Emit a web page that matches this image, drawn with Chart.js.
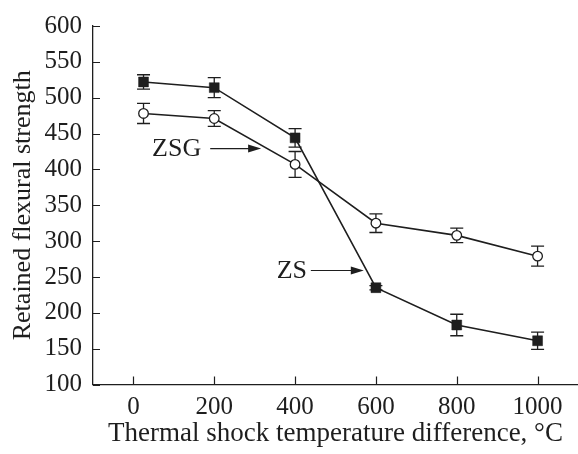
<!DOCTYPE html>
<html>
<head>
<meta charset="utf-8">
<script src="https://cdn.jsdelivr.net/npm/chart.js@4/dist/chart.umd.min.js"></script>
<style>
  body { margin: 0; background: #fff; }
  #wrap { width: 578px; height: 454px; position: relative; }
</style>
</head>
<body>
<div id="wrap"><canvas id="chart"></canvas></div>
<script>
// temperature difference, °C
temps = [25, 200, 400, 600, 800, 1000]
// retained flexural strength
zs = [522, 514, 444, 235, 183, 161]
zsErr = [10, 14, 13, 3, 15, 12]
zsg = [478, 471, 407, 325, 308, 279]
zsgErr = [14, 11, 18, 13, 10, 14]

xTicks = [0, 200, 400, 600, 800, 1000]

// label text, anchor in data units, arrow start/end x in data units
notes = [
    { text: 'ZSG', x: 107, y: 429, from: 190, to: 316 },
    { text: 'ZS', x: 392, y: 259, from: 439, to: 570 }
]

ink = '#1e1e1e'
serif = "'Liberation Serif', 'Times New Roman', serif"

function toPoints(ys) {
    return temps.map((t, i) => ({ x: t, y: ys[i] }))
}

// error bars, drawn under the markers
errorBars = {
    id: 'errorBars',
    beforeDatasetsDraw(chart) {
        const ctx = chart.ctx
        const xs = chart.scales.x, ys = chart.scales.y
        const sets = [[zs, zsErr], [zsg, zsgErr]]
        ctx.save()
        ctx.strokeStyle = ink
        ctx.lineWidth = 1.3
        sets.forEach(([vals, errs]) => {
            vals.forEach((v, i) => {
                const px = xs.getPixelForValue(temps[i])
                const top = ys.getPixelForValue(v + errs[i])
                const bot = ys.getPixelForValue(v - errs[i])
                ctx.beginPath()
                ctx.moveTo(px, top); ctx.lineTo(px, bot)
                ctx.moveTo(px - 6.5, top); ctx.lineTo(px + 6.5, top)
                ctx.moveTo(px - 6.5, bot); ctx.lineTo(px + 6.5, bot)
                ctx.stroke()
            })
        })
        ctx.restore()
    }
}

// inward tick marks + labels with arrows
extras = {
    id: 'extras',
    afterDraw(chart) {
        const ctx = chart.ctx
        const xs = chart.scales.x, ys = chart.scales.y
        const area = chart.chartArea
        ctx.save()
        ctx.strokeStyle = ink
        ctx.lineWidth = 1.2
        ctx.beginPath()
        xs.ticks.forEach(t => {
            const px = Math.round(xs.getPixelForValue(t.value)) + 0.5
            ctx.moveTo(px, area.bottom); ctx.lineTo(px, area.bottom - 8)
        })
        ys.ticks.forEach(t => {
            const py = Math.round(ys.getPixelForValue(t.value)) + 0.5
            ctx.moveTo(area.left, py); ctx.lineTo(area.left + 7, py)
        })
        ctx.stroke()

        ctx.fillStyle = ink
        ctx.font = '26px ' + serif
        ctx.textAlign = 'center'
        ctx.textBaseline = 'middle'
        notes.forEach(n => {
            const py = ys.getPixelForValue(n.y)
            ctx.fillText(n.text, xs.getPixelForValue(n.x), py + 1)
            const x0 = xs.getPixelForValue(n.from)
            const x1 = xs.getPixelForValue(n.to)
            ctx.beginPath()
            ctx.moveTo(x0, py); ctx.lineTo(x1 - 10, py)
            ctx.stroke()
            ctx.beginPath()
            ctx.moveTo(x1, py)
            ctx.lineTo(x1 - 13, py - 4)
            ctx.lineTo(x1 - 13, py + 4)
            ctx.closePath()
            ctx.fill()
        })
        ctx.restore()
    }
}

new Chart('chart', {
    type: 'line',
    data: {
        datasets: [{
            label: 'ZS',
            data: toPoints(zs),
            borderColor: ink,
            borderWidth: 1.6,
            pointStyle: 'rect',
            pointRadius: 7,
            pointBackgroundColor: ink,
            pointBorderColor: ink,
            pointBorderWidth: 0.5,
            tension: 0
        }, {
            label: 'ZSG',
            data: toPoints(zsg),
            borderColor: ink,
            borderWidth: 1.6,
            pointStyle: 'circle',
            pointRadius: 4.8,
            pointBackgroundColor: '#ffffff',
            pointBorderColor: ink,
            pointBorderWidth: 1.3,
            tension: 0
        }]
    },
    options: {
        responsive: true,
        maintainAspectRatio: false,
        animation: false,
        layout: { autoPadding: false, padding: { top: 25, right: 0, left: 0, bottom: 0 } },
        plugins: {
            legend: { display: false },
            tooltip: { enabled: false }
        },
        scales: {
            x: {
                type: 'linear',
                min: -100,
                max: 1100,
                afterBuildTicks: (s) => { s.ticks = xTicks.map(v => ({ value: v })) },
                afterFit: (s) => { s.height = 69.5; s.paddingLeft = 0; s.paddingRight = 0 },
                grid: { display: false, drawTicks: false },
                border: { display: true, color: ink, width: 1.3 },
                ticks: {
                    color: ink, padding: 8, maxRotation: 0,
                    font: { family: serif, size: 25 },
                    callback: (v) => String(v)
                },
                title: {
                    display: true,
                    text: 'Thermal shock temperature difference, °C',
                    color: ink,
                    padding: { top: 0, bottom: 4 },
                    font: { family: serif, size: 27 }
                }
            },
            y: {
                min: 100,
                max: 600,
                ticks: { stepSize: 50, color: ink, padding: 11, font: { family: serif, size: 25 } },
                afterFit: (s) => { s.width = 93 },
                grid: { display: false, drawTicks: false },
                border: { display: true, color: ink, width: 1.3 },
                title: {
                    display: true,
                    text: 'Retained flexural strength',
                    color: ink,
                    padding: { top: 8, bottom: 0 },
                    font: { family: serif, size: 26 }
                }
            }
        }
    },
    plugins: [errorBars, extras]
})
</script>
</body>
</html>
